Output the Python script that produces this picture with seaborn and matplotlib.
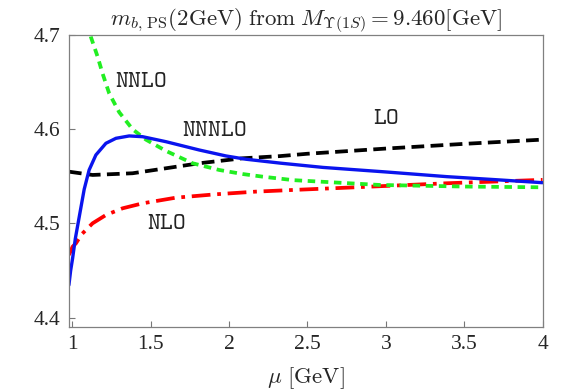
import numpy as np
import pandas as pd
import matplotlib
matplotlib.use("Agg")
import matplotlib.pyplot as plt
import seaborn as sns

sns.set_style("ticks")
plt.rcParams["mathtext.fontset"] = "cm"
plt.rcParams["font.family"] = ["Liberation Serif", "DejaVu Serif"]

# mu [GeV] and m_b,PS(2GeV) [GeV]
mu_lo = [0.979, 1.0, 1.13, 1.385, 1.598, 1.81, 2.087, 2.325, 2.5, 3.0, 3.5, 4.0]
m_lo = [4.555, 4.5545, 4.5515, 4.5533, 4.5586, 4.5639, 4.5692, 4.5715, 4.574, 4.5795, 4.5845, 4.589]

mu_nlo = [0.979, 1.0025, 1.024, 1.06, 1.13, 1.215, 1.321, 1.449, 1.661, 1.916, 2.17,
          2.41, 2.75, 3.39, 3.98, 4.0]
m_nlo = [4.4666, 4.4754, 4.479, 4.4885, 4.5002, 4.509, 4.5161, 4.5214, 4.5274, 4.531, 4.5338,
         4.5356, 4.538, 4.5427, 4.5462, 4.5463]

mu_nnlo = [1.10, 1.119, 1.162, 1.194, 1.236, 1.30, 1.385, 1.47, 1.598, 1.768, 1.9375,
           2.087, 2.214, 2.41, 2.96, 3.5, 4.0]
m_nnlo = [4.712, 4.698, 4.677, 4.659, 4.638, 4.618, 4.600, 4.589, 4.577, 4.5639, 4.5568,
          4.5525, 4.5497, 4.546, 4.5409, 4.5392, 4.5384]

mu_nnnlo = [0.979, 0.99, 1.0025, 1.02, 1.045, 1.0765, 1.108, 1.151, 1.215, 1.279, 1.3635,
            1.449, 1.598, 1.81, 1.98, 2.108, 2.33, 2.6, 3.0, 3.39, 3.7, 4.0]
m_nnnlo = [4.4347, 4.450, 4.463, 4.484, 4.5072, 4.5363, 4.5568, 4.5727, 4.5851, 4.5904, 4.5929,
           4.5921, 4.5868, 4.578, 4.5717, 4.5682, 4.5640, 4.5595, 4.5547, 4.5497, 4.5465, 4.5433]

fig = plt.figure(figsize=(5.84, 3.92), dpi=100)
ax = fig.add_axes([0.118, 0.1666, 0.811, 0.7441])

sns.lineplot(x=mu_lo, y=m_lo, ax=ax, color="black", lw=2.7)
ax.lines[-1].set_dashes([3.4, 1.7])
sns.lineplot(x=mu_nlo, y=m_nlo, ax=ax, color="#ff0000", lw=2.7)
ax.lines[-1].set_dashes([5, 1.8, 1.0, 1.8])
sns.lineplot(x=mu_nnlo, y=m_nnlo, ax=ax, color="#22ee22", lw=2.7)
ax.lines[-1].set_dashes([2.0, 1.5])
sns.lineplot(x=mu_nnnlo, y=m_nnnlo, ax=ax, color="#0a14ee", lw=2.4)

lab_font = dict(fontsize=17.5, color="#222222", ha="center", va="center")
ax.text(1.44, 4.6505, r"$\mathtt{NNLO}$", **lab_font)
ax.text(1.905, 4.5985, r"$\mathtt{NNNLO}$", **lab_font)
ax.text(3.0, 4.6115, r"$\mathtt{LO}$", **lab_font)
ax.text(1.60, 4.5005, r"$\mathtt{NLO}$", **lab_font)

ax.set_xlim(0.979, 4.0)
ax.set_ylim(4.3905, 4.7)
ax.set_xticks([1, 1.5, 2, 2.5, 3, 3.5, 4])
ax.set_xticklabels(["1", "1.5", "2", "2.5", "3", "3.5", "4"])
ax.set_yticks([4.4, 4.5, 4.6, 4.7])
ax.set_yticklabels(["4.4", "4.5", "4.6", "4.7"])
ax.tick_params(direction="in", length=4, width=0.8, color="#777777", labelsize=15.5, pad=6)
for lab in ax.get_xticklabels() + ax.get_yticklabels():
    lab.set_fontfamily("Liberation Serif")
for s in ax.spines.values():
    s.set_color("#808080")
    s.set_linewidth(0.9)

ax.set_title(r"$m_{b,\,\mathrm{PS}}(2\mathrm{GeV})$ $\mathrm{from}$ $M_{\Upsilon(1S)}=9.460[\mathrm{GeV}]$",
             fontsize=16.5, pad=5)
ax.set_xlabel(r"$\mu\ [\mathrm{GeV}]$", fontsize=16.5, labelpad=8)
ax.set_ylabel("")

fig.savefig("out.png", dpi=100)
